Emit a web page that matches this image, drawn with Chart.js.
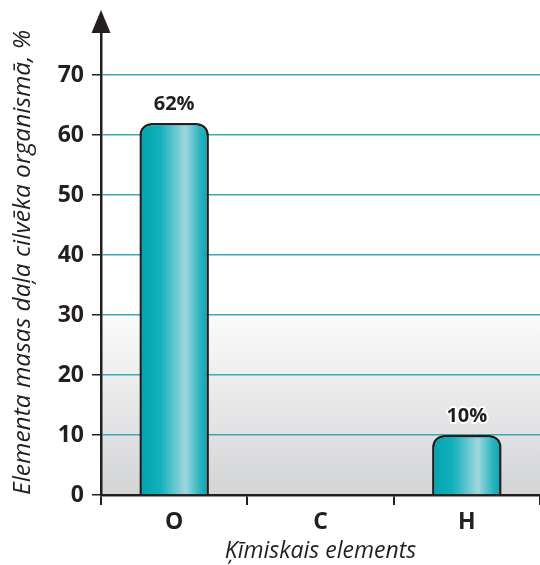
<!DOCTYPE html>
<html>
<head>
<meta charset="utf-8">
<script src="https://cdn.jsdelivr.net/npm/chart.js@4"></script>
<style>
  html, body { margin: 0; padding: 0; background: #ffffff; }
  #wrap { width: 540px; height: 565px; position: relative; }
</style>
</head>
<body>
<div id="wrap"><canvas id="chart" width="540" height="565"></canvas></div>
<script>
// Chemical elements and their share of body mass (%); carbon has no bar drawn
const elements = ['O', 'C', 'H'];
const massShare = [62, null, 10];
const yTicks = [0, 10, 20, 30, 40, 50, 60, 70];

const INK = '#231f20';
const GRID = '#3aaab6';
const FONT = '"Open Sans", "Liberation Sans", sans-serif';

// Grey band fading in below the 30 % line
const bandPlugin = {
  id: 'band',
  beforeDraw(chart) {
    const { ctx, chartArea, scales } = chart;
    const yTop = scales.y.getPixelForValue(30);
    const yBot = scales.y.getPixelForValue(0);
    const g = ctx.createLinearGradient(0, yTop, 0, yBot);
    g.addColorStop(0, '#fbfbfb');
    g.addColorStop(1, '#d3d4d6');
    ctx.save();
    ctx.fillStyle = g;
    ctx.fillRect(chartArea.left, yTop, chartArea.right - chartArea.left, yBot - yTop);
    ctx.restore();
  }
};

// Arrow head on the value axis and percentage labels above the bars
const decorPlugin = {
  id: 'decor',
  afterDraw(chart) {
    const { ctx, chartArea, scales } = chart;
    const x0 = scales.y.right;
    ctx.save();
    ctx.fillStyle = INK;
    ctx.beginPath();
    ctx.moveTo(x0, chartArea.top - 5);
    ctx.lineTo(x0 - 9.5, chartArea.top + 18);
    ctx.lineTo(x0 + 9.5, chartArea.top + 18);
    ctx.closePath();
    ctx.fill();

    const meta = chart.getDatasetMeta(0);
    ctx.font = 'bold 20px ' + FONT;
    ctx.textAlign = 'center';
    ctx.textBaseline = 'alphabetic';
    ctx.lineJoin = 'round';
    meta.data.forEach((bar, i) => {
      const v = massShare[i];
      if (v == null) return;
      const txt = v + '%';
      const ty = bar.y - 13;
      ctx.strokeStyle = '#ffffff';
      ctx.lineWidth = 4;
      ctx.strokeText(txt, bar.x, ty);
      ctx.fillStyle = INK;
      ctx.fillText(txt, bar.x, ty);
    });
    ctx.restore();
  }
};

const BAR_PCT = 0.475;

function barGradient(context) {
  const chart = context.chart;
  const xs = chart.scales.x;
  if (!chart.chartArea || !xs) return '#00aab6';
  const cx = xs.getPixelForValue(context.dataIndex);
  const w = (xs.width / elements.length) * BAR_PCT;
  const g = chart.ctx.createLinearGradient(cx - w / 2, 0, cx + w / 2, 0);
  g.addColorStop(0, '#00a3af');
  g.addColorStop(0.3, '#12b0bb');
  g.addColorStop(0.66, '#a0d7de');
  g.addColorStop(0.88, '#27b3be');
  g.addColorStop(1, '#00a6b2');
  return g;
}

new Chart(document.getElementById('chart'), {
  type: 'bar',
  data: {
    labels: elements,
    datasets: [{
      data: massShare,
      backgroundColor: barGradient,
      borderColor: INK,
      borderWidth: 2.5,
      borderSkipped: 'bottom',
      borderRadius: { topLeft: 12, topRight: 12, bottomLeft: 0, bottomRight: 0 },
      barPercentage: BAR_PCT,
      categoryPercentage: 1
    }]
  },
  options: {
    responsive: false,
    animation: false,
    devicePixelRatio: 1,
    layout: { padding: { top: 15, right: 0, left: 0, bottom: 0 } },
    plugins: { legend: { display: false }, tooltip: { enabled: false } },
    scales: {
      x: {
        offset: true,
        afterFit(scale) { scale.height = 70; },
        grid: {
          offset: true,
          drawOnChartArea: false,
          tickLength: 10,
          tickColor: INK,
          lineWidth: 2
        },
        border: { color: INK, width: 2.5 },
        ticks: { color: INK, padding: 4, font: { family: FONT, size: 23, weight: 'bold' } },
        title: {
          display: true,
          text: 'Ķīmiskais elements',
          color: INK,
          padding: { top: 0, bottom: 0 },
          font: { family: FONT, size: 23, style: 'italic', weight: 500 }
        }
      },
      y: {
        min: 0,
        max: 80,
        afterFit(scale) {
          scale.width = 101;
          scale.paddingTop = 0;
          scale.paddingBottom = 0;
        },
        afterBuildTicks(scale) {
          scale.ticks = yTicks.concat([80]).map(v => ({ value: v }));
        },
        grid: {
          color: c => (c.tick && (c.tick.value === 0 || c.tick.value === 80)) ? 'rgba(0,0,0,0)' : GRID,
          tickColor: c => (c.tick && c.tick.value === 80) ? 'rgba(0,0,0,0)' : INK,
          lineWidth: 1.5,
          tickLength: 9
        },
        border: { color: INK, width: 2.5 },
        ticks: {
          color: INK,
          padding: 8,
          font: { family: FONT, size: 23, weight: 'bold' },
          callback: v => (v === 80 ? '' : String(v))
        },
        title: {
          display: true,
          text: 'Elementa masas daļa cilvēka organismā, %',
          align: 'start',
          color: INK,
          padding: { top: 8, bottom: 0 },
          font: { family: FONT, size: 24.5, style: 'italic', weight: 500 }
        }
      }
    }
  },
  plugins: [bandPlugin, decorPlugin]
});
</script>
</body>
</html>
